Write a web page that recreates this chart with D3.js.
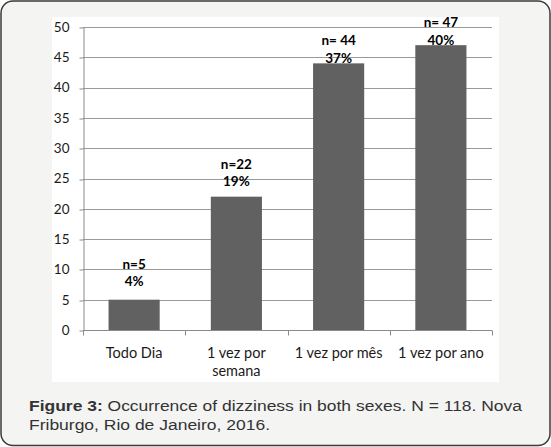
<!DOCTYPE html>
<html>
<head>
<meta charset="utf-8">
<script src="https://cdn.jsdelivr.net/npm/d3@7"></script>
<style>
  body { margin: 0; background: #fff; }
  svg { display: block; }
</style>
</head>
<body>
<div id="chart"></div>
<script>
// data
let categories = ['Todo Dia', '1 vez por semana', '1 vez por mês', '1 vez por ano']
let counts = [5, 22, 44, 47]
let countLabels = ['n=5', 'n=22', 'n= 44', 'n= 47']
let pctLabels = ['4%', '19%', '37%', '40%']
let yTicks = [0, 5, 10, 15, 20, 25, 30, 35, 40, 45, 50]

let W = 551
let H = 447

let margin = { top: 27, left: 83, right: 59, bottom: 117 }
let width = W - margin.left - margin.right
let height = H - margin.top - margin.bottom

let svg = d3
  .select('#chart')
  .append('svg')
  .attr('width', W)
  .attr('height', H)

// outer card
svg
  .append('rect')
  .attr('x', 1)
  .attr('y', 1)
  .attr('width', W - 2)
  .attr('height', H - 2.5)
  .attr('rx', 12)
  .attr('fill', '#f4f4f3')
  .attr('stroke', '#3a3a3a')
  .attr('stroke-width', 1.5)

// white chart area
svg
  .append('rect')
  .attr('x', 52)
  .attr('y', 17)
  .attr('width', 447)
  .attr('height', 365)
  .attr('fill', '#fff')

let g = svg
  .append('g')
  .attr('transform', 'translate(' + margin.left + ',' + margin.top + ')')

let x = d3.scaleBand()
  .domain(categories)
  .range([0, width])
  .paddingInner(0.5)
  .paddingOuter(0.25)

let y = d3.scaleLinear()
  .domain([0, 50])
  .range([height, 0])

// gridlines
g.selectAll('.grid')
  .data(yTicks.filter(d => d > 0))
  .enter()
  .append('line')
  .attr('class', 'grid')
  .attr('x1', 0)
  .attr('x2', width)
  .attr('y1', d => Math.round(y(d)) + 0.5)
  .attr('y2', d => Math.round(y(d)) + 0.5)
  .attr('stroke', '#9a9a9a')
  .attr('stroke-width', 1)

// y axis
let yAxis = g.append('g')
  .attr('transform', 'translate(0.5,0)')
  .call(d3.axisLeft(y).tickValues(yTicks).tickSize(4).tickPadding(10).tickSizeOuter(0))
yAxis.select('.domain').attr('stroke', '#8a8a8a')
yAxis.selectAll('.tick line').attr('stroke', '#8a8a8a')
  .attr('transform', d => 'translate(0,' + (Math.round(y(d)) + 0.5 - y(d)) + ')')
yAxis.selectAll('text')
  .attr('font-family', 'Lato, "Open Sans", sans-serif')
  .attr('font-size', 13.5)
  .attr('fill', '#1a1a1a')

// bars
g.selectAll('.bar')
  .data(counts)
  .enter()
  .append('rect')
  .attr('class', 'bar')
  .attr('x', (d, i) => x(categories[i]))
  .attr('width', x.bandwidth())
  .attr('y', d => y(d))
  .attr('height', d => height - y(d))
  .attr('fill', '#616161')

// x axis with ticks at band edges
let xAxisG = g.append('g')
  .attr('transform', 'translate(0,' + (Math.round(height) + 0.5) + ')')
xAxisG.append('line')
  .attr('x1', 0)
  .attr('x2', width)
  .attr('stroke', '#8a8a8a')
let edges = d3.range(categories.length + 1).map(i => i * x.step())
xAxisG.selectAll('.xtick')
  .data(edges)
  .enter()
  .append('line')
  .attr('class', 'xtick')
  .attr('x1', d => Math.round(d) + 0.5)
  .attr('x2', d => Math.round(d) + 0.5)
  .attr('y1', 0)
  .attr('y2', 5)
  .attr('stroke', '#8a8a8a')

// category labels, wrapped like the spreadsheet does
let maxLabel = x.step() * 0.94
categories.forEach((c, i) => {
  let cx = x(c) + x.bandwidth() / 2
  let t = xAxisG.append('text')
    .attr('x', cx)
    .attr('y', 27.5)
    .attr('text-anchor', 'middle')
    .attr('font-family', 'Lato, "Open Sans", sans-serif')
    .attr('font-size', 14.5)
    .attr('fill', '#1a1a1a')
  let words = c.split(' ')
  let line = []
  let tspan = t.append('tspan').attr('x', cx).attr('dy', 0)
  words.forEach(w => {
    line.push(w)
    tspan.text(line.join(' '))
    if (tspan.node().getComputedTextLength() > maxLabel && line.length > 1) {
      line.pop()
      tspan.text(line.join(' '))
      line = [w]
      tspan = t.append('tspan')
        .attr('x', cx)
        .attr('dy', 17.5)
        .text(w)
    }
  })
})

// value labels (hand placed in the original, so gaps differ per bar)
let labelGap = [13.5, 10.5, 0.5, 0.5]
let labels = g.selectAll('.lbl')
  .data(counts)
  .enter()
  .append('g')
  .attr('class', 'lbl')
  .attr('transform', (d, i) => 'translate(' + (x(categories[i]) + x.bandwidth() / 2) + ',' + (y(d) - labelGap[i]) + ')')
  .attr('font-family', 'Lato, "Open Sans", sans-serif')
  .attr('font-size', 13.5)
  .attr('font-weight', 'bold')
  .attr('fill', '#000')
  .attr('text-anchor', 'middle')
labels.append('text')
  .attr('y', -17.5)
  .text((d, i) => countLabels[i])
labels.append('text')
  .attr('y', 0)
  .text((d, i) => pctLabels[i])

// caption, stretched to the width it has in the figure
let cap = svg.append('text')
  .attr('x', 29)
  .attr('y', 411)
  .attr('font-family', '"Liberation Sans", Arial, sans-serif')
  .attr('font-size', 15.5)
  .attr('fill', '#333')
  .attr('textLength', 493)
  .attr('lengthAdjust', 'spacingAndGlyphs')
cap.append('tspan').attr('font-weight', 'bold').text('Figure 3:')
cap.append('tspan').text(' Occurrence of dizziness in both sexes. N = 118. Nova')
svg.append('text')
  .attr('x', 29)
  .attr('y', 430)
  .attr('font-family', '"Liberation Sans", Arial, sans-serif')
  .attr('font-size', 15.5)
  .attr('fill', '#333')
  .attr('textLength', 241)
  .attr('lengthAdjust', 'spacingAndGlyphs')
  .text('Friburgo, Rio de Janeiro, 2016.')
</script>
</body>
</html>
